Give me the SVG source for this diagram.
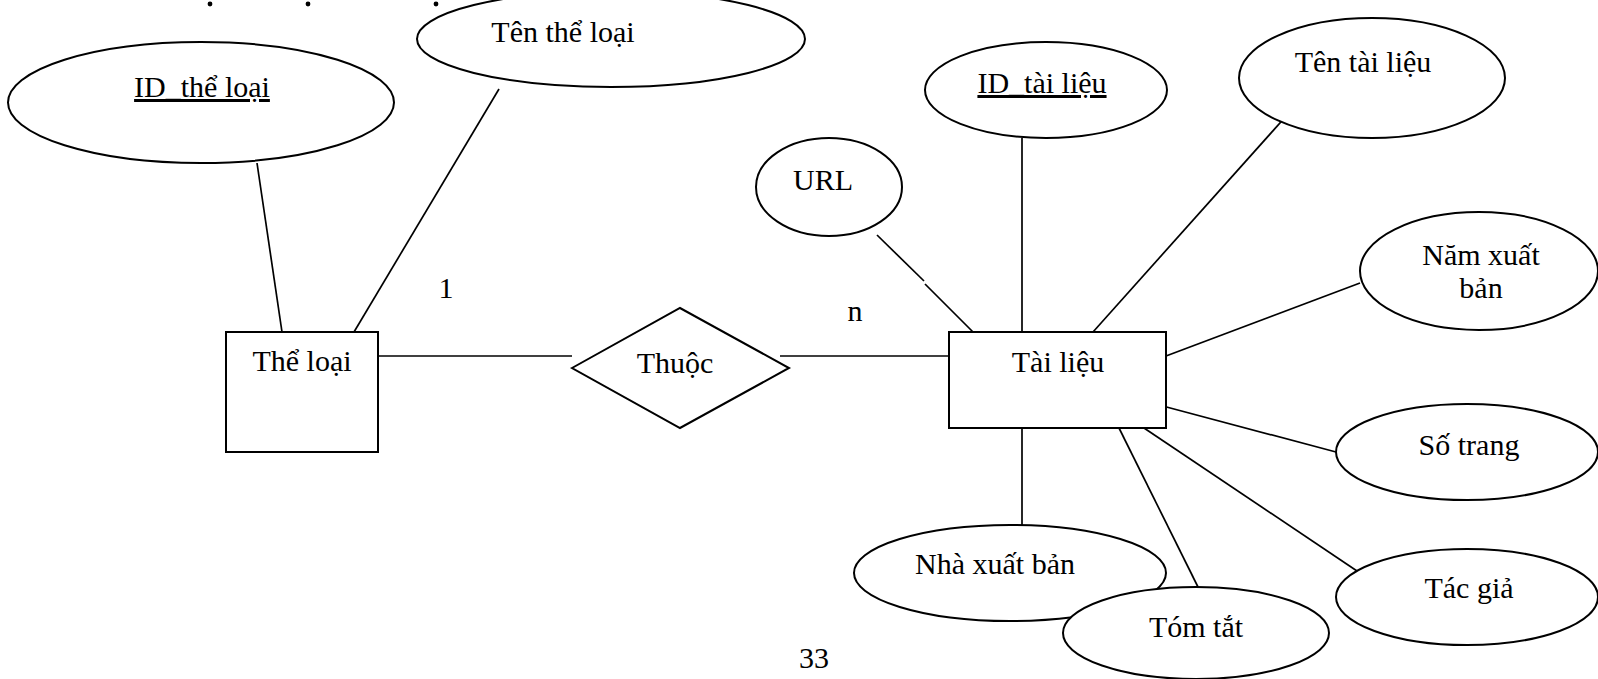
<svg xmlns="http://www.w3.org/2000/svg" width="1598" height="679" viewBox="0 0 1598 679">
  <style>
    .shape { fill: #fff; stroke: #000; stroke-width: 2; }
    .link { stroke: #000; stroke-width: 1.7; fill: none; }
    text { font-family: "Liberation Serif", "Times New Roman", serif; font-size: 30px; fill: #000; text-anchor: middle; }
    .key { text-decoration: underline; }
  </style>
  <rect width="1598" height="679" fill="#fff"/>

  <!-- dots of the heading line above the diagram -->
  <g id="heading-fragment" fill="#000">
    <circle cx="210" cy="4" r="2.4"/>
    <circle cx="308" cy="4" r="2.4"/>
    <circle cx="436" cy="4" r="2.4"/>
  </g>

  <!-- connectors -->
  <g id="connectors">
    <line class="link" x1="257" y1="163" x2="282" y2="332"/>
    <line class="link" x1="499" y1="89" x2="354" y2="332"/>
    <line class="link" x1="378" y1="356" x2="572" y2="356"/>
    <line class="link" x1="780" y1="356" x2="949" y2="356"/>
    <line class="link" x1="877" y1="235" x2="924" y2="281"/>
    <line class="link" x1="925" y1="284" x2="973" y2="332"/>
    <line class="link" x1="1022" y1="138" x2="1022" y2="332"/>
    <line class="link" x1="1288" y1="114" x2="1093" y2="332"/>
    <line class="link" x1="1360" y1="283" x2="1166" y2="356"/>
    <line class="link" x1="1159" y1="405" x2="1336" y2="452"/>
    <line class="link" x1="1022" y1="428" x2="1022" y2="525"/>
    <line class="link" x1="1119" y1="428" x2="1198" y2="587"/>
    <line class="link" x1="1144" y1="428" x2="1360" y2="573"/>
  </g>

  <!-- cardinalities -->
  <g id="cardinality-1"><text x="446" y="298">1</text></g>
  <g id="cardinality-n"><text x="855" y="321">n</text></g>

  <!-- entity: Thể loại -->
  <g id="attr-id-the-loai">
    <ellipse class="shape" cx="201" cy="102.5" rx="193" ry="60.5"/>
    <text class="key" x="202" y="97">ID_thể loại</text>
  </g>
  <g id="attr-ten-the-loai">
    <ellipse class="shape" cx="611" cy="39" rx="194" ry="48"/>
    <text x="563" y="42">Tên thể loại</text>
  </g>
  <g id="entity-the-loai">
    <rect class="shape" x="226" y="332" width="152" height="120"/>
    <text x="302" y="371">Thể loại</text>
  </g>

  <!-- relationship -->
  <g id="rel-thuoc">
    <polygon class="shape" points="572,368 680,308 789,368 680,428"/>
    <text x="675" y="373">Thuộc</text>
  </g>

  <!-- entity: Tài liệu -->
  <g id="entity-tai-lieu">
    <rect class="shape" x="949" y="332" width="217" height="96"/>
    <text x="1058" y="372">Tài liệu</text>
  </g>
  <g id="attr-url">
    <ellipse class="shape" cx="829" cy="187" rx="73" ry="49"/>
    <text x="823" y="190">URL</text>
  </g>
  <g id="attr-id-tai-lieu">
    <ellipse class="shape" cx="1046" cy="90" rx="121" ry="48"/>
    <text class="key" x="1042" y="93">ID_tài liệu</text>
  </g>
  <g id="attr-ten-tai-lieu">
    <ellipse class="shape" cx="1372" cy="78" rx="133" ry="60"/>
    <text x="1363" y="72">Tên tài liệu</text>
  </g>
  <g id="attr-nam-xuat-ban">
    <ellipse class="shape" cx="1479" cy="271" rx="119" ry="59"/>
    <text x="1481" y="265">Năm xuất</text>
    <text x="1481" y="298">bản</text>
  </g>
  <g id="attr-so-trang">
    <ellipse class="shape" cx="1467" cy="452" rx="131" ry="48"/>
    <text x="1469" y="455">Số trang</text>
  </g>
  <g id="attr-tac-gia">
    <ellipse class="shape" cx="1467" cy="597" rx="131" ry="48"/>
    <text x="1469" y="598">Tác giả</text>
  </g>
  <g id="attr-nha-xuat-ban">
    <ellipse class="shape" cx="1010" cy="573" rx="156" ry="48"/>
    <text x="995" y="574">Nhà xuất bản</text>
  </g>
  <g id="attr-tom-tat">
    <ellipse class="shape" cx="1196" cy="633" rx="133" ry="46"/>
    <text x="1196" y="637">Tóm tắt</text>
  </g>

  <!-- page number -->
  <g id="page-number"><text x="814" y="668">33</text></g>
</svg>
